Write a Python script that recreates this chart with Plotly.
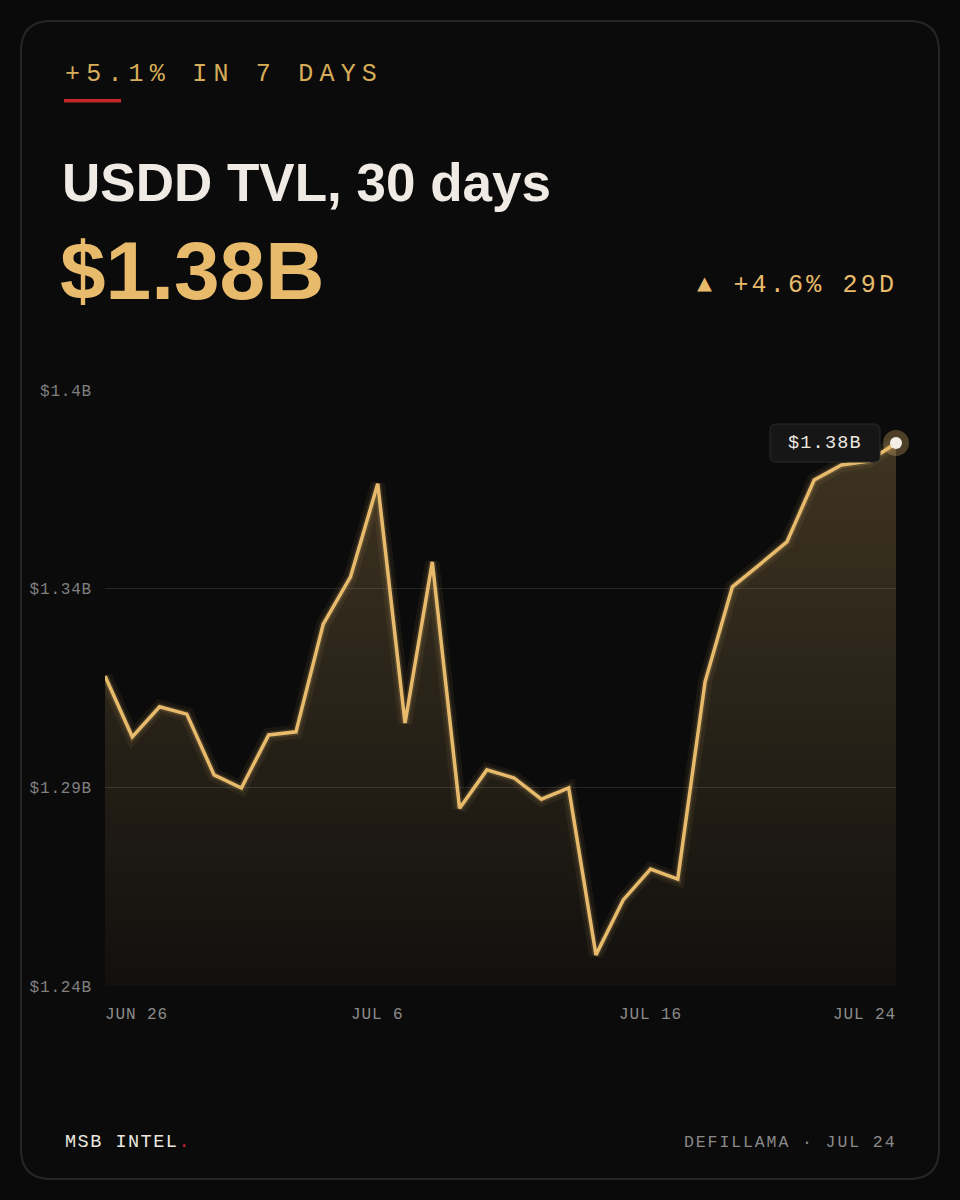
import plotly.graph_objects as go

# ---------------- data ----------------
tvl_billions = [1.3206, 1.3048, 1.3126, 1.3107, 1.2949, 1.2915, 1.3053, 1.3061, 1.3341, 1.3464,
                1.3706, 1.3084, 1.3503, 1.2862, 1.2962, 1.2941, 1.2886, 1.2915, 1.2481, 1.2624,
                1.2704, 1.2678, 1.3191, 1.3438, 1.3496, 1.3555, 1.3716, 1.3755, 1.3765, 1.3812]
day_index = list(range(len(tvl_billions)))
x_tick_index = [0, 10, 20, 29]
x_tick_text = ["JUN 26", "JUL 6", "JUL 16", "JUL 24"]
y_tick_values = [1.24, 1.24 + 0.155 / 3, 1.24 + 2 * 0.155 / 3, 1.395]
y_tick_text = ["$1.24B", "$1.29B", "$1.34B", "$1.4B"]
y_range = [1.24, 1.395]
header_text = "+5.1% IN 7 DAYS"
title_text = "USDD TVL, 30 days"
change_text = "▲ +4.6% 29D"
footer_left = "MSB INTEL"
footer_right = "DEFILLAMA · JUL 24"

# ---------------- styling ----------------
W, H = 960, 1200
PL, PR, PT, PB = 105, 896, 390, 986
GOLD = "#e8bb6c"
BG = "#0a0a0a"
MONO = "Liberation Mono, DejaVu Sans Mono, monospace"
SANS = "Liberation Sans, Arial, sans-serif"


def fx(px):
    return (px - PL) / (PR - PL)


def fy(py):
    return (PB - py) / (PB - PT)


def rrect(x0, y0, x1, y1, r):
    pts = [
        ("M", [(x0 + r, y0)]), ("L", [(x1 - r, y0)]), ("Q", [(x1, y0), (x1, y0 + r)]),
        ("L", [(x1, y1 - r)]), ("Q", [(x1, y1), (x1 - r, y1)]), ("L", [(x0 + r, y1)]),
        ("Q", [(x0, y1), (x0, y1 - r)]), ("L", [(x0, y0 + r)]), ("Q", [(x0, y0), (x0 + r, y0)]),
    ]
    s = ""
    for cmd, ps in pts:
        s += cmd + " " + " ".join(f"{fx(a):.5f},{fy(b):.5f}" for a, b in ps) + " "
    return s + "Z"


def spaced(t, ls):
    return f'<span style="letter-spacing:{ls}px">{t}</span>'


fig = go.Figure()

# baseline for the area fill (axis minimum)
fig.add_trace(go.Scatter(x=day_index, y=[y_range[0]] * len(day_index), mode="lines",
                         line=dict(width=0), hoverinfo="skip", showlegend=False))
fig.add_trace(go.Scatter(
    x=day_index, y=tvl_billions, mode="lines", line=dict(width=0),
    fill="tonexty",
    fillgradient=dict(type="vertical", start=y_range[0], stop=y_range[1],
                      colorscale=[[0, "rgba(232,187,108,0.03)"], [1, "rgba(232,187,108,0.25)"]]),
    hoverinfo="skip", showlegend=False))

# glow
fig.add_trace(go.Scatter(x=day_index, y=tvl_billions, mode="lines",
                         line=dict(color="rgba(232,187,108,0.07)", width=14), hoverinfo="skip", showlegend=False))
fig.add_trace(go.Scatter(x=day_index, y=tvl_billions, mode="lines",
                         line=dict(color="rgba(232,187,108,0.16)", width=7), hoverinfo="skip", showlegend=False))
# main line
fig.add_trace(go.Scatter(x=day_index, y=tvl_billions, mode="lines",
                         line=dict(color=GOLD, width=3.5), hoverinfo="skip", showlegend=False))
# end marker with halo
fig.add_trace(go.Scatter(x=[day_index[-1]], y=[tvl_billions[-1]], mode="markers",
                         marker=dict(size=26, color="rgba(232,187,108,0.30)"), hoverinfo="skip", showlegend=False,
                         cliponaxis=False))
fig.add_trace(go.Scatter(x=[day_index[-1]], y=[tvl_billions[-1]], mode="markers",
                         marker=dict(size=12, color="#f3efe6"), hoverinfo="skip", showlegend=False,
                         cliponaxis=False))

shapes = [
    # card
    dict(type="path", xref="paper", yref="paper", path=rrect(21, 21, 939, 1179, 30),
         fillcolor="#0b0b0b", line=dict(color="#272727", width=2), layer="below"),
    # red underline
    dict(type="rect", xref="paper", yref="paper", x0=fx(64), x1=fx(121), y0=fy(99), y1=fy(102.5),
         fillcolor="#c4262a", line=dict(width=0)),
    # value label box anchored to last point
    dict(type="path", xref="x", yref="y", xsizemode="pixel", ysizemode="pixel",
         xanchor=day_index[-1], yanchor=tvl_billions[-1],
         path="M -120,19 L -22,19 Q -16,19 -16,13 L -16,-13 Q -16,-19 -22,-19 L -120,-19 "
              "Q -126,-19 -126,-13 L -126,13 Q -126,19 -120,19 Z",
         fillcolor="#161616", line=dict(color="#2a2a2a", width=1)),
]

annotations = [
    dict(text=spaced(header_text, 6.2), x=fx(63), y=fy(74), xanchor="left", yanchor="middle",
         font=dict(family=MONO, size=25, color="#d6ad58")),
    dict(text=f"<b>{title_text}</b>", x=fx(60), y=fy(182), xanchor="left", yanchor="middle",
         font=dict(family=SANS, size=53, color="#efebe4")),
    dict(text=f"<b>${tvl_billions[-1]:.2f}B</b>", x=fx(58), y=fy(270), xanchor="left", yanchor="middle",
         font=dict(family=SANS, size=82, color=GOLD)),
    dict(text=spaced(change_text, 3.2), x=fx(899), y=fy(285), xanchor="right", yanchor="middle",
         font=dict(family=MONO, size=25, color=GOLD)),
    dict(text=spaced(footer_left, 1.5) + '<span style="color:#c4262a">.</span>', x=fx(63), y=fy(1142),
         xanchor="left", yanchor="middle", font=dict(family=MONO, size=18.5, color="#ece8e0")),
    dict(text=spaced(footer_right, 1.9), x=fx(898), y=fy(1142), xanchor="right", yanchor="middle",
         font=dict(family=MONO, size=16.5, color="#8a8a8a")),
    dict(text=spaced(f"${tvl_billions[-1]:.2f}B", 1.2), x=day_index[-1], y=tvl_billions[-1], xref="x", yref="y",
         xshift=-71, xanchor="center", yanchor="middle", font=dict(family=MONO, size=18.5, color="#ece8e0")),
]
for i, (idx, txt) in enumerate(zip(x_tick_index, x_tick_text)):
    anchor = "left" if i == 0 else ("right" if i == len(x_tick_index) - 1 else "center")
    annotations.append(dict(text=spaced(txt, 0.9), x=idx, y=fy(1015), xref="x", yref="paper",
                            xanchor=anchor, yanchor="middle", xshift=(-2 if i == 0 else (2 if anchor == "right" else 0)),
                            font=dict(family=MONO, size=16, color="#8c8c8c")))
for a in annotations:
    a.setdefault("xref", "paper")
    a.setdefault("yref", "paper")
    a["showarrow"] = False

fig.update_layout(
    width=W, height=H,
    margin=dict(l=PL, r=W - PR, t=PT, b=H - PB, autoexpand=False),
    paper_bgcolor=BG, plot_bgcolor="rgba(0,0,0,0)",
    showlegend=False, hovermode=False,
    shapes=shapes, annotations=annotations,
    xaxis=dict(range=[day_index[0], day_index[-1]], showgrid=False, zeroline=False,
               showticklabels=False, showline=False, fixedrange=True),
    yaxis=dict(range=y_range, tickmode="array", tickvals=y_tick_values,
               ticktext=[spaced(t, 0.8) for t in y_tick_text],
               showgrid=True, gridcolor="#262626", gridwidth=1, zeroline=False, showline=False,
               ticks="", ticklabelstandoff=12,
               tickfont=dict(family=MONO, size=16, color="#808080"), fixedrange=True),
)

fig.write_html("out.html")
